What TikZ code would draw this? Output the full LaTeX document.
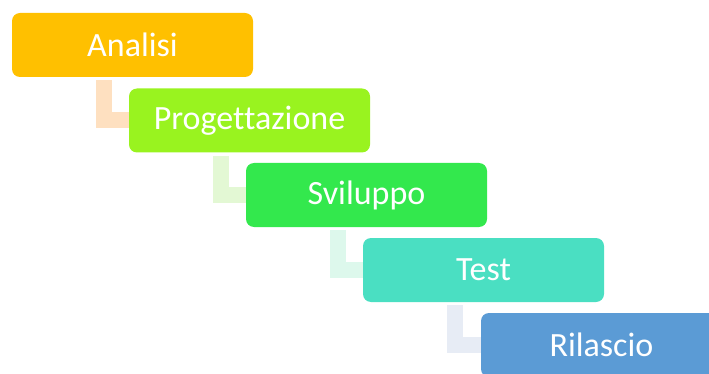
\documentclass[tikz,border=0pt]{standalone}
\usepackage{fontspec}
\setmainfont[Ligatures=CommonOff]{Carlito}
\definecolor{cA}{HTML}{FFC000}
\definecolor{cB}{HTML}{99F31F}
\definecolor{cC}{HTML}{33E84D}
\definecolor{cD}{HTML}{4ADFC2}
\definecolor{cE}{HTML}{5B9BD5}
\definecolor{lA}{HTML}{FEE0C0}
\definecolor{lB}{HTML}{E3F8D4}
\definecolor{lC}{HTML}{DDF8EC}
\definecolor{lD}{HTML}{E7ECF5}
\tikzset{
  phase/.style={rounded corners=8pt, minimum width=241pt, minimum height=64pt, inner sep=0pt, text=white, font=\fontsize{34}{36}\selectfont},
  conn/.style={line width=16pt, line cap=butt, line join=miter}
}
\begin{document}
\begin{tikzpicture}[x=1pt,y=-1pt]
\useasboundingbox (0,0) rectangle (709,374);
\clip (0,0) rectangle (709,374);
\node[phase, fill=cA] (a) at (132.5,45) {Analisi};
\node[phase, fill=cB] (b) at (249.5,120.5) {Progettazione};
\node[phase, fill=cC] (c) at (366.5,195) {Sviluppo};
\node[phase, fill=cD] (d) at (483.5,270) {Test};
\node[phase, fill=cE] (e) at (601.5,345) {Rilascio};
\draw[conn, draw=lA] ([xshift=92.5pt,yshift=-3pt]a.south west) |- (b.west);
\draw[conn, draw=lB] ([xshift=92pt,yshift=-3pt]b.south west) |- (c.west);
\draw[conn, draw=lC] ([xshift=92pt,yshift=-3pt]c.south west) |- (d.west);
\draw[conn, draw=lD] ([xshift=92pt,yshift=-3pt]d.south west) |- (e.west);
\end{tikzpicture}
\end{document}
